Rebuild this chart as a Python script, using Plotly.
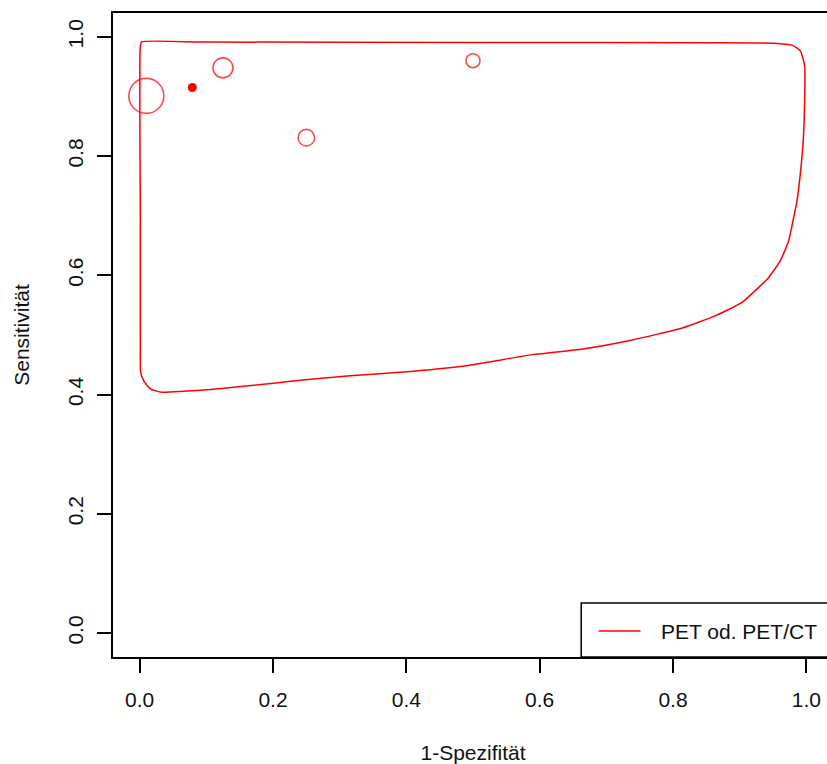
import plotly.graph_objects as go

# ---------------- data ----------------
# confidence region (1-specificity, sensitivity), traced clockwise
region_fpr = [0.001, 0.003, 0.10, 0.50, 0.951, 0.9785, 0.991, 0.9975, 0.9975, 0.9965, 0.9945,
              0.991, 0.986, 0.981, 0.9735, 0.961, 0.9436, 0.9286, 0.9036, 0.8638, 0.8139,
              0.7391, 0.6643, 0.5895, 0.4898, 0.390, 0.3202, 0.2603, 0.2005, 0.1406, 0.1058,
              0.0658, 0.0335, 0.016, 0.006, 0.0015, 0.001, 0.001, 0.001]
region_sens = [0.985, 0.9915, 0.9913, 0.9905, 0.9894, 0.9861, 0.9765, 0.9513, 0.896, 0.852, 0.8122,
               0.7703, 0.725, 0.6972, 0.6582, 0.6246, 0.5966, 0.5799, 0.5547, 0.5324, 0.5118,
               0.4917, 0.4766, 0.4671, 0.4486, 0.4374, 0.4319, 0.4263, 0.419, 0.4123, 0.4084,
               0.4056, 0.4039, 0.4096, 0.4235, 0.4374, 0.4793, 0.70, 0.985]

# individual studies
study_fpr = [0.01, 0.125, 0.25, 0.50]
study_sens = [0.901, 0.948, 0.831, 0.960]
study_weight = [1.0, 0.57, 0.47, 0.40]   # relative circle size

# summary estimate
summary_fpr = [0.079]
summary_sens = [0.915]

x_ticks = [0.0, 0.2, 0.4, 0.6, 0.8, 1.0]
x_ticklabels = ["0.0", "0.2", "0.4", "0.6", "0.8", "1.0"]
y_ticks = [0.0, 0.2, 0.4, 0.6, 0.8, 1.0]
y_ticklabels = ["0.0", "0.2", "0.4", "0.6", "0.8", "1.0"]

legend_label = "PET od. PET/CT"
x_title = "1-Spezifität"
y_title = "Sensitivität"

# ---------------- style ----------------
RED = "#FF0000"
FONT = "Liberation Sans, Arial, sans-serif"
FS = 21
MAX_CIRCLE = 35

fig = go.Figure()

fig.add_trace(go.Scatter(
    x=region_fpr, y=region_sens, mode="lines",
    line=dict(color=RED, width=1.5, shape="spline", smoothing=0.5), name=legend_label,
    showlegend=False, hoverinfo="skip"))

fig.add_trace(go.Scatter(
    x=study_fpr, y=study_sens, mode="markers",
    marker=dict(symbol="circle-open", color=RED,
                size=[MAX_CIRCLE * w for w in study_weight],
                line=dict(color=RED, width=1.6)),
    showlegend=False, name="Studien"))

fig.add_trace(go.Scatter(
    x=summary_fpr, y=summary_sens, mode="markers",
    marker=dict(symbol="circle", color=RED, size=9),
    showlegend=False, name="Summary"))

# figure is slightly wider than the 827px window; the right frame edge falls outside, as in the reference
W, H = 835, 764
L, R, T, B = 113, 0, 13, 107

fig.update_layout(
    width=W, height=H,
    margin=dict(l=L, r=R, t=T, b=B, pad=0),
    paper_bgcolor="white", plot_bgcolor="white",
    font=dict(family=FONT, size=FS, color="#111"),
    showlegend=False,
    xaxis=dict(range=[-0.04, 1.04], tickvals=x_ticks, ticktext=x_ticklabels,
               showgrid=False, zeroline=False, showline=True, mirror=True,
               linecolor="black", linewidth=1.5,
               ticks="outside", ticklen=14, tickwidth=1.5, tickcolor="black",
               ticklabelstandoff=9,
               title=dict(text=x_title, standoff=37, font=dict(size=FS))),
    yaxis=dict(range=[-0.04, 1.04], tickvals=y_ticks, ticktext=y_ticklabels,
               showgrid=False, zeroline=False, showline=True, mirror=True,
               linecolor="black", linewidth=1.5,
               ticks="outside", ticklen=14, tickwidth=1.5, tickcolor="black",
               tickangle=-90, ticklabelstandoff=6,
               title=dict(text=y_title, standoff=28, font=dict(size=FS))),
)

# manual legend box (bottom-right, extends past the visible edge)
pw = W - L - R
ph = H - T - B
def px_x(p):
    return (p - L) / pw
def px_y(p):
    return (H - B - p) / ph

fig.add_shape(type="rect", xref="paper", yref="paper",
              x0=px_x(582.5), x1=1.0, y0=0, y1=px_y(603),
              line=dict(color="black", width=1.5), fillcolor="white", layer="above")
fig.add_shape(type="line", xref="paper", yref="paper",
              x0=px_x(600), x1=px_x(642), y0=px_y(631), y1=px_y(631),
              line=dict(color=RED, width=1.5), layer="above")
fig.add_annotation(xref="paper", yref="paper", x=px_x(661), y=px_y(631),
                   xanchor="left", yanchor="middle", showarrow=False,
                   text=legend_label, font=dict(size=FS, color="#111"))

fig.write_html("out.html", config={"displayModeBar": False},
               post_script="document.body.style.margin='0px';document.body.style.overflow='hidden';")
